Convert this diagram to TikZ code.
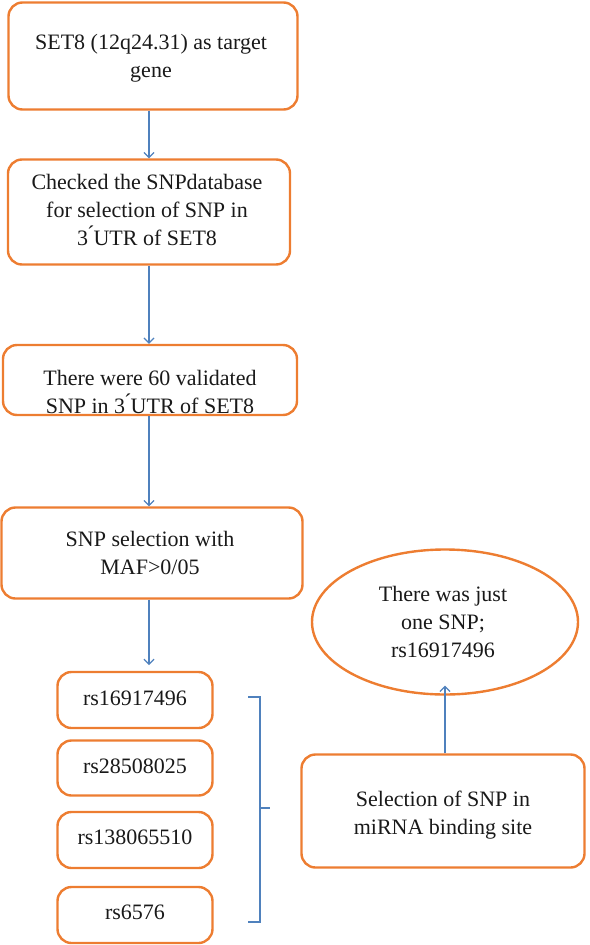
\documentclass[tikz,border=0pt]{standalone}
\usepackage{fontspec}
\setmainfont{Liberation Serif}
\usetikzlibrary{shapes.geometric,arrows.meta}
\definecolor{borange}{RGB}{237,125,49}
\definecolor{ablue}{RGB}{79,129,189}
\begin{document}
\begin{tikzpicture}[x=1pt,y=-1pt,
  box/.style={draw=borange,line width=2.4pt,rounded corners=14pt,inner sep=0pt},
  ell/.style={draw=borange,line width=2.4pt,ellipse,inner sep=0pt},
  txt/.style={align=center,font=\fontsize{22}{28}\selectfont,text=black!90,inner sep=0pt},
  arr/.style={draw=ablue,line width=1.2pt,-{Straight Barb[length=5pt,width=10pt]}},
  brk/.style={draw=ablue,line width=1.2pt}]
\useasboundingbox (0,0) rectangle (589,945);
\node[box,minimum width=289pt,minimum height=107pt] (b1) at (153,56) {};
\node[txt] (t1) at (151,58) {SET8 (12q24.31) as target\\gene};
\node[box,minimum width=282pt,minimum height=105pt] (b2) at (149,212) {};
\node[txt] (t2) at (147,210) {Checked the SNPdatabase\\for selection of SNP in\\3\'{}UTR of SET8};
\node[box,minimum width=294pt,minimum height=70pt] (b3) at (150,380) {};
\node[txt] (t3) at (150,392) {There were 60 validated\\SNP in 3\'{}UTR of SET8};
\node[box,minimum width=301pt,minimum height=91pt] (b4) at (152,553) {};
\node[txt] (t4) at (150,553) {SNP selection with\\MAF>0/05};
\node[box,minimum width=155pt,minimum height=56pt] (s1) at (135,700) {};
\node[txt] (u1) at (135,698) {rs16917496};
\node[box,minimum width=155pt,minimum height=55pt] (s2) at (135,768) {};
\node[txt] (u2) at (135,766) {rs28508025};
\node[box,minimum width=155pt,minimum height=56pt] (s3) at (135,840) {};
\node[txt] (u3) at (135,837) {rs138065510};
\node[box,minimum width=155pt,minimum height=56pt] (s4) at (135,915) {};
\node[txt] (u4) at (135,912) {rs6576};
\node[ell,minimum width=266pt,minimum height=145pt] (e) at (445,622) {};
\node[txt] (te) at (443,622) {There was just\\one SNP;\\rs16917496};
\node[box,minimum width=283pt,minimum height=113pt] (r) at (443,811) {};
\node[txt] (tr) at (443,815) {Selection of SNP in\\miRNA binding site};
\draw[arr] (b1.south -| 149,0) -- (b2.north -| 149,0);
\draw[arr] (b2.south -| 149,0) -- (b3.north -| 149,0);
\draw[arr] (b3.south -| 149,0) -- (b4.north -| 149,0);
\draw[arr] (b4.south -| 149,0) -- (149,665) coordinate (a4);
\draw[arr] (r.north -| e.south) -- ([yshift=10pt]e.south);
\coordinate (bt) at (248,697);
\coordinate (bb) at (248,922);
\coordinate (bm) at (270,808);
\draw[brk] (bt) -- (260,697) -- (260,922) -- (bb);
\draw[brk] (260,808) -- (bm);
\end{tikzpicture}
\end{document}
